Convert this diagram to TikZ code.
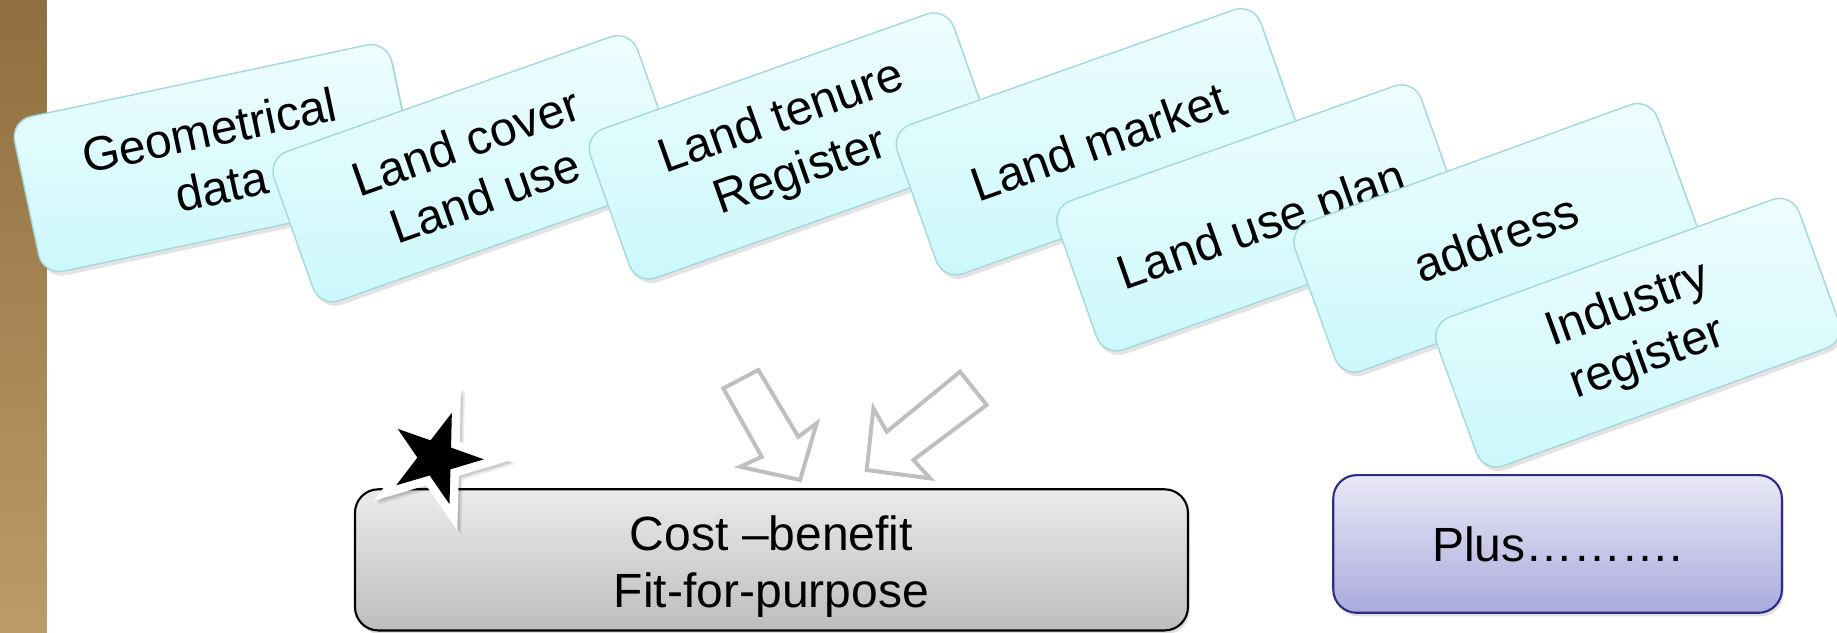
\documentclass[tikz,border=0pt]{standalone}
\usepackage{fontspec}
\setmainfont{Liberation Sans}
\usetikzlibrary{shapes.geometric,shadows}
\definecolor{bartop}{HTML}{8F6F3F}
\definecolor{barbot}{HTML}{BB9B67}
\definecolor{cyanedge}{HTML}{A3D9DD}
\definecolor{cyantop}{HTML}{EFFDFE}
\definecolor{cyanbot}{HTML}{CBF8FB}
\definecolor{graytop}{HTML}{EBEBEB}
\definecolor{graybot}{HTML}{BDBDBD}
\definecolor{purpedge}{HTML}{2B2B8A}
\definecolor{purptop}{HTML}{E9E9F7}
\definecolor{purpbot}{HTML}{AAAADD}
\definecolor{arrowgray}{HTML}{BFBFBF}
\begin{document}
\begin{tikzpicture}[x=1pt,y=-1pt,
  bigfont/.style={font=\fontsize{41}{49}\selectfont},
  card/.style={bigfont, draw=cyanedge, line width=1.2pt, rounded corners=18pt,
    top color=cyantop, bottom color=cyanbot, minimum width=329pt,
    minimum height=135pt, inner sep=0pt, align=center,
    drop shadow={shadow xshift=2pt, shadow yshift=-3.5pt, opacity=0.22}},
  panel/.style={rounded corners=20pt, inner sep=0pt, line width=1.8pt,
    drop shadow={shadow xshift=1.5pt, shadow yshift=-3pt, opacity=0.25}},
  paneltext/.style={bigfont, align=center, inner sep=0pt},
  hollowarrow/.style={draw=arrowgray, line width=3.4pt, fill=white, miter limit=10},
  starshape/.style={star, star points=5, star point ratio=2.6,
    minimum size=82pt, inner sep=0pt, rotate=-19.5}
]
\useasboundingbox (0,0) rectangle (1568,539.46);
% left bar
\fill[top color=bartop, bottom color=barbot] (0,0) rectangle (40,539.46);

% cards
\node[card, rotate=12]   (geo)      at (183.7,135) {Geometrical\\data};
\node[card, rotate=19.5] (cover)    at (405.6,144) {Land cover\\Land use};
\node[card, rotate=19.5] (tenure)   at (675.6,124.6) {Land tenure\\Register};
\node[card, rotate=19.5] (market)   at (937.6,121) {Land market};
\node[card, rotate=19.5] (plan)     at (1074.6,186)
  {\raisebox{-9pt}[0.75em][0.2em]{Land use plan}};
\node[card, rotate=20]   (addr)     at (1277,203) {address};
\node[card, rotate=20]   (industry) at (1398,284) {Industry\\register};

% hollow arrows
\draw[hollowarrow] (617.4,331.5) -- (647.3,315.8) -- (681.4,372.8) -- (697.1,361.3)
  -- (682.9,409.7) -- (631.7,398.4) -- (650.2,389.9) -- cycle;
\draw[hollowarrow] (819.5,317.3) -- (842.2,345.7) -- (779.6,392.6) -- (793.9,408.3)
  -- (739.8,401.2) -- (745.5,348.5) -- (756.9,368.5) -- cycle;

% bottom panels
\node[panel, draw=black, top color=graytop, bottom color=graybot,
  minimum width=711pt, minimum height=120.5pt] (cost) at (658.5,477.9) {};
\node[paneltext] (costtext) at (658.5,483.5) {Cost \textendash benefit\\Fit-for-purpose};
\node[panel, draw=purpedge, top color=purptop, bottom color=purpbot,
  minimum width=383pt, minimum height=117.5pt] (plus) at (1329.5,464.3) {};
\node[paneltext] (plustext) at (1329.5,465) {Plus……….};

% star with white outline and soft shadow
\node[starshape, draw=black, fill=black, line width=14.5pt, opacity=0.08] (starsh1) at (375.5,394.5) {};
\node[starshape, draw=black, fill=black, line width=14.5pt, opacity=0.12] (starsh2) at (374,393) {};
\node[starshape, draw=white, fill=white, line width=14.5pt] (starbg) at (372,391) {};
\node[starshape, fill=black] (star) at (372,391) {};
\end{tikzpicture}
\end{document}
